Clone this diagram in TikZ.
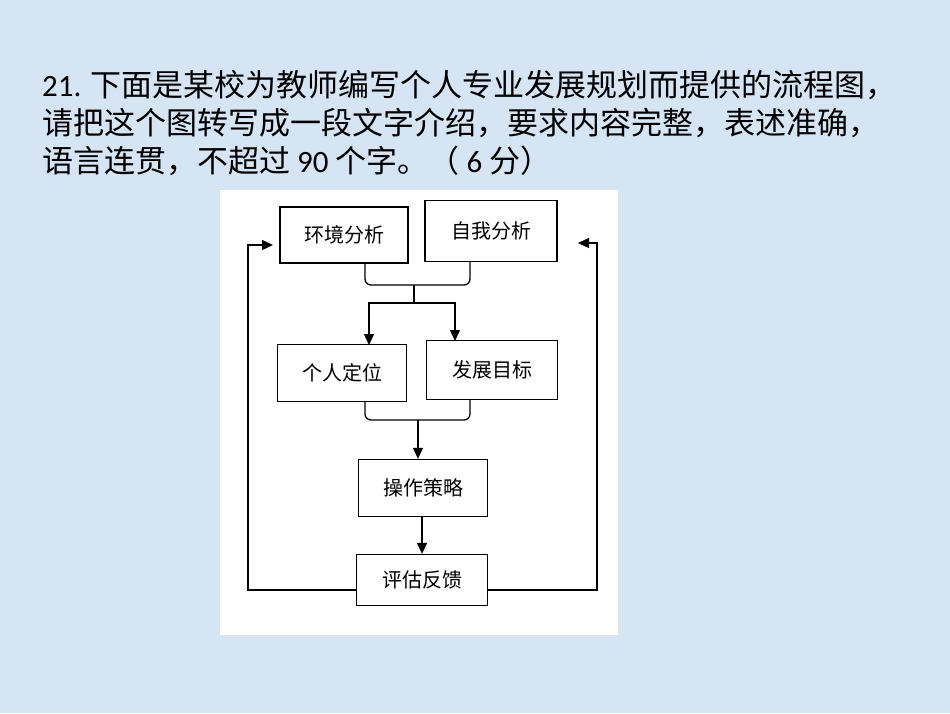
\documentclass[tikz,border=0pt]{standalone}
\usepackage{fontspec}
\newfontfamily\cjk{Noto Sans CJK SC}
\setmainfont{Carlito}
\usetikzlibrary{arrows.meta}
\definecolor{bg}{HTML}{D5E5F4}
\begin{document}
\begin{tikzpicture}[x=1pt,y=-1pt,
  box/.style={draw,line width=1.3pt,minimum width=#1,inner sep=0pt,font=\cjk\fontsize{20}{20}\selectfont},
  ln/.style={line width=1.3pt},
  arr/.style={ln,-{Triangle[length=11pt,width=10pt]}},
  title/.style={anchor=west,inner sep=0pt,font=\fontsize{31}{31}\selectfont}]
\fill[bg] (0,0) rectangle (950,713);
\useasboundingbox (0,0) rectangle (950,713);
\fill[white] (220,190) rectangle (618,635);
\node[title] (t1) at (42,85) {21. {\cjk 下面是某校为教师编写个人专业发展规划而提供的流程图，}};
\node[title] (t2) at (42,123) {\cjk 请把这个图转写成一段文字介绍，要求内容完整，表述准确，};
\node[title] (t3) at (42,161) {{\cjk 语言连贯，不超过} 90 {\cjk 个字。（} 6 {\cjk 分）}};
\node[box=128pt,minimum height=56pt] (a) at (344,235) {环境分析};
\node[box=132pt,minimum height=61pt] (b) at (491,231) {自我分析};
\node[box=129pt,minimum height=57pt] (c) at (342,373) {个人定位};
\node[box=131pt,minimum height=59pt] (d) at (492,370) {发展目标};
\node[box=129pt,minimum height=57pt] (e) at (423,488) {操作策略};
\node[box=131pt,minimum height=51pt] (f) at (422,580) {评估反馈};
\coordinate (m1) at (414,285);
\coordinate (m2) at (414,303);
\draw[ln,rounded corners=6pt] (365,263) |- (m1) -| (470,262);
\draw[ln] (m1) -- (m2);
\draw[arr] (m2) -| (369,345);
\draw[arr] (m2) -| (455,341);
\draw[ln,rounded corners=6pt] (365,402) |- (418,420) -| (470,400);
\draw[arr] (418,420) -- (e.north -| 418,0);
\draw[arr] (e.south -| 422,0) -- (f.north -| 422,0);
\draw[arr] (f.west |- 0,590) -| (248,245) -- (273,245);
\draw[arr] (f.east |- 0,590) -| (597,243) -- (578,243);
\end{tikzpicture}
\end{document}
